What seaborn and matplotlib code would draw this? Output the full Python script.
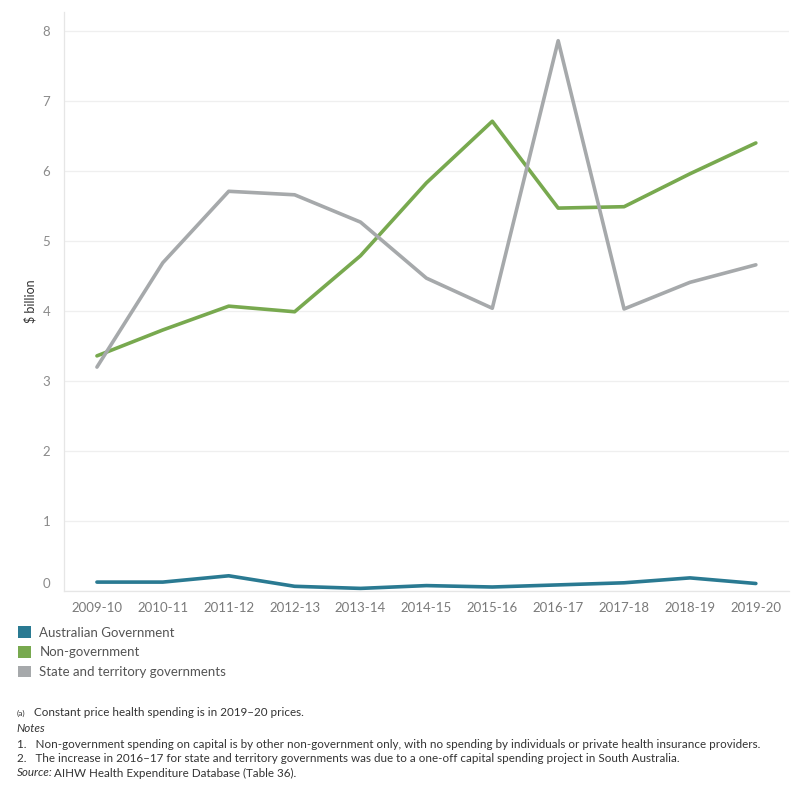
import pandas as pd
import seaborn as sns
import matplotlib.pyplot as plt
import matplotlib.transforms as mtransforms
from matplotlib.patches import Patch

# values, $ billion
years = ['2009-10', '2010-11', '2011-12', '2012-13', '2013-14', '2014-15',
         '2015-16', '2016-17', '2017-18', '2018-19', '2019-20']
aus_gov = [0.13, 0.13, 0.22, 0.07, 0.04, 0.08, 0.06, 0.09, 0.12, 0.19, 0.11]
non_gov = [3.36, 3.73, 4.07, 3.99, 4.79, 5.83, 6.71, 5.47, 5.49, 5.96, 6.40]
state_gov = [3.20, 4.69, 5.71, 5.66, 5.27, 4.47, 4.04, 7.86, 4.03, 4.41, 4.66]

series = ['Australian Government', 'Non-government', 'State and territory governments']
colors = ['#2a7a92', '#78a94f', '#a6a9ab']

df = pd.DataFrame({'year': years * 3,
                   'value': aus_gov + non_gov + state_gov,
                   'sector': [s for s in series for _ in years]})

sns.set_theme(style='white')
plt.rcParams['font.family'] = ['Lato', 'DejaVu Sans']

fig = plt.figure(figsize=(8, 8), dpi=100)
ax = fig.add_axes([0.08, 0.261, 0.906, 0.724])

sns.lineplot(data=df, x='year', y='value', hue='sector', palette=colors,
             linewidth=2.6, legend=False, ax=ax, sort=False)

ax.set_xlim(-0.5, len(years) - 0.5)
ax.set_ylim(0, 8.27)
ax.set_yticks(range(0, 9))
ax.yaxis.grid(True, color='#efefef', linewidth=0.9)
ax.xaxis.grid(False)
ax.set_xlabel('')
ax.set_ylabel('$ billion', fontsize=9, color='#333333', labelpad=4)

for s in ['top', 'right']:
    ax.spines[s].set_visible(False)
for s in ['left', 'bottom']:
    ax.spines[s].set_color('#e6e6e6')
    ax.spines[s].set_linewidth(0.9)

ax.tick_params(axis='y', length=0, labelsize=9.5, labelcolor='#8a8a8a', pad=10)
ax.tick_params(axis='x', length=0, labelsize=9.5, labelcolor='#7a7a7a', pad=8)
ax.set_xticks(range(len(years)))
ax.set_xticklabels(years)
# boundary tick marks between categories
ax.set_xticks([i - 0.5 for i in range(len(years) + 1)], minor=True)
ax.tick_params(axis='x', which='minor', length=5, color='#e6e6e6', width=0.9)

# the lowest y label sits a little above the axis line, as in the original
lab0 = ax.get_yticklabels()[0]
lab0.set_transform(lab0.get_transform() + mtransforms.ScaledTranslation(0, 8 / 100, fig.dpi_scale_trans))

handles = [Patch(facecolor=c, edgecolor='none') for c in colors]
fig.legend(handles, series, loc='upper left', bbox_to_anchor=(0.008, 0.232),
           frameon=False, fontsize=9.5, handlelength=1.0, handleheight=1.0,
           handletextpad=0.6, labelspacing=0.55, labelcolor='#555555')

foot = ['Constant price health spending is in 2019\u201320 prices.',
        'Notes',
        '1.   Non-government spending on capital is by other non-government only, with no spending by individuals or private health insurance providers.',
        '2.   The increase in 2016\u201317 for state and territory governments was due to a one-off capital spending project in South Australia.']
fam = ['Liberation Sans Narrow', 'Lato', 'DejaVu Sans']
fs = 8.4
fig.text(0.021, 1 - 713 / 800, '(a)', fontsize=6, color='#333333', va='center', family=fam)
fig.text(0.043, 1 - 713 / 800, foot[0], fontsize=fs, color='#333333', va='center', family=fam)
fig.text(0.021, 1 - 729 / 800, foot[1], fontsize=fs, color='#333333', va='center',
         style='italic', family=fam)
fig.text(0.021, 1 - 744 / 800, foot[2], fontsize=fs, color='#333333', va='center', family=fam)
fig.text(0.021, 1 - 759 / 800, foot[3], fontsize=fs, color='#333333', va='center', family=fam)
fig.text(0.021, 1 - 773 / 800, 'Source:', fontsize=fs, color='#333333', va='center',
         style='italic', family=fam)
fig.text(0.068, 1 - 773 / 800, 'AIHW Health Expenditure Database (Table 36).', fontsize=fs,
         color='#333333', va='center', family=fam)

fig.savefig('out.png', dpi=100)
